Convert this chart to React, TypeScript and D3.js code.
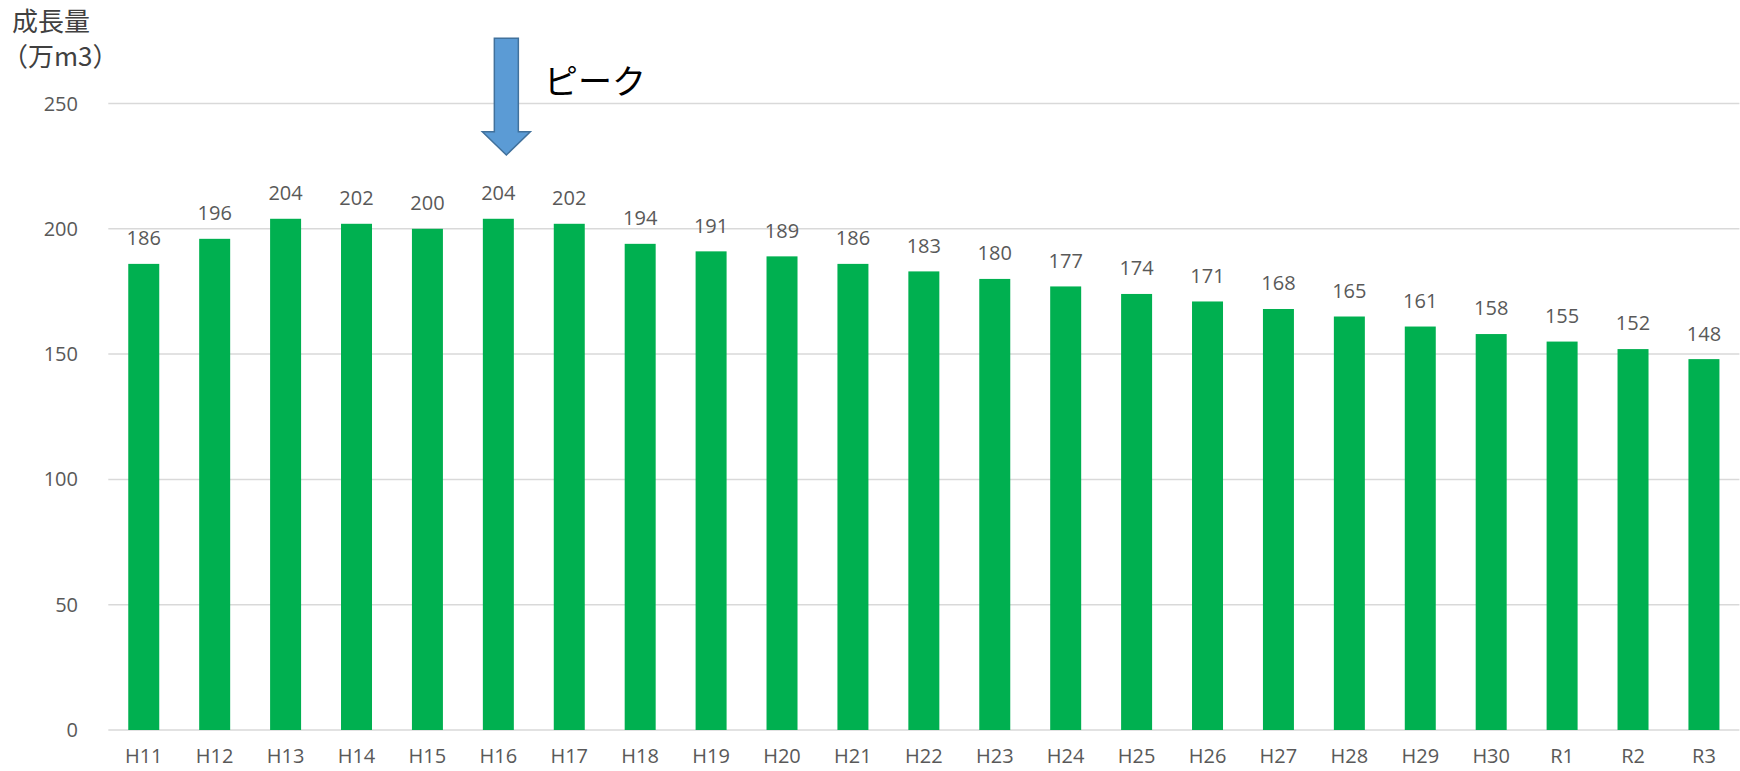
import React from "react";
import * as d3 from "d3";

const years = ["H11","H12","H13","H14","H15","H16","H17","H18","H19","H20","H21","H22","H23","H24","H25","H26","H27","H28","H29","H30","R1","R2","R3"];
const growth = [186,196,204,202,200,204,202,194,191,189,186,183,180,177,174,171,168,165,161,158,155,152,148];
const yTicks = [0, 50, 100, 150, 200, 250];
const peakYear = "H16";

const W = 1740;
const H = 771;
const left = 108.3;
const right = 1739.4;
const top = 103.5;
const bottom = 730;

const numFont = "'Open Sans', 'Noto Sans CJK JP', sans-serif";
const jpFont = "'Noto Sans CJK JP', sans-serif";

export default function App() {
  const x = d3.scaleBand<string>().domain(years).range([left, right]).paddingInner(0.563).paddingOuter(0.2815);
  const y = d3.scaleLinear().domain([0, 250]).range([bottom, top]);

  const peakX = (x(peakYear) ?? 0) + x.bandwidth() / 2 + 8;
  // down arrow shape above the peak year
  const shaftW = 24, headW = 48, arrowTop = 38.3, headTop = 131.7, tip = 155;
  const arrowPath = d3.path();
  arrowPath.moveTo(peakX - shaftW / 2, arrowTop);
  arrowPath.lineTo(peakX + shaftW / 2, arrowTop);
  arrowPath.lineTo(peakX + shaftW / 2, headTop);
  arrowPath.lineTo(peakX + headW / 2, headTop);
  arrowPath.lineTo(peakX, tip);
  arrowPath.lineTo(peakX - headW / 2, headTop);
  arrowPath.lineTo(peakX - shaftW / 2, headTop);
  arrowPath.closePath();

  return (
    <svg width={W} height={H} style={{ position: "absolute", left: 0, top: 0, background: "#fff" }}>
      {yTicks.map((t) => (
        <g key={t}>
          <line x1={left} x2={right} y1={y(t)} y2={y(t)} stroke="#d9d9d9" strokeWidth={1.5} />
          <text x={78} y={y(t)} dy="0.35em" textAnchor="end" fontFamily={numFont} fontSize={20} fill="#595959">{t}</text>
        </g>
      ))}
      {years.map((yr, i) => {
        const bx = x(yr) ?? 0;
        const v = growth[i];
        return (
          <g key={yr}>
            <rect x={bx} y={y(v)} width={x.bandwidth()} height={y(0) - y(v)} fill="#00B050" />
            <text x={bx + x.bandwidth() / 2} y={y(v) - 18.6} textAnchor="middle" fontFamily={numFont} fontSize={20} fill="#595959">{v}</text>
            <text x={bx + x.bandwidth() / 2} y={763} textAnchor="middle" fontFamily={numFont} fontSize={20} fill="#595959">{yr}</text>
          </g>
        );
      })}
      <text x={12} y={31} fontFamily={jpFont} fontSize={26} fill="#404040">成長量</text>
      <text x={2} y={66} fontFamily={jpFont} fontSize={26} fill="#404040">（万m3）</text>
      <path d={arrowPath.toString()} fill="#5B9BD5" stroke="#41719C" strokeWidth={1.5} />
      <text x={544} y={94} fontFamily={jpFont} fontSize={34} fill="#000">ピーク</text>
    </svg>
  );
}
